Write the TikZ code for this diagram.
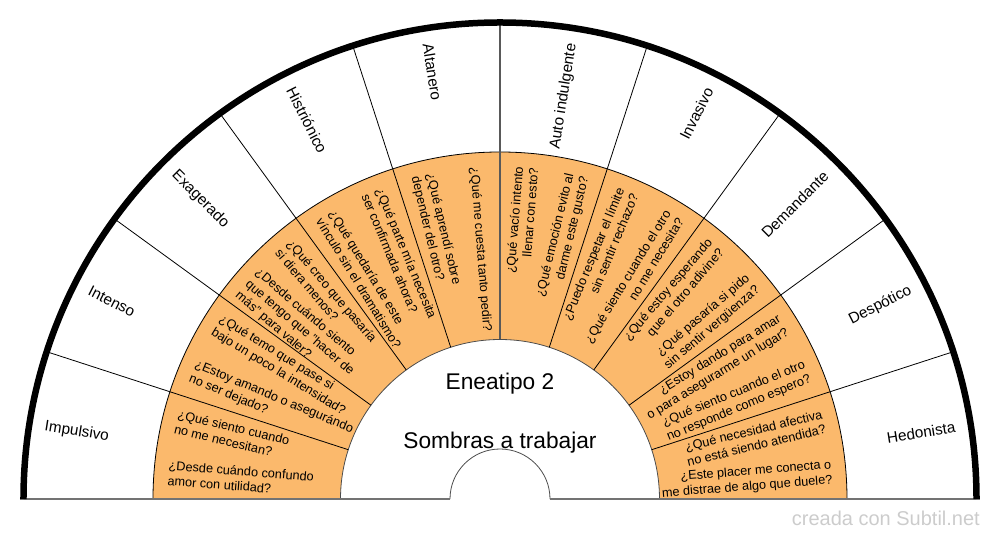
\documentclass[tikz,border=0pt]{standalone}
\usepackage{fontspec}
\setmainfont{Liberation Sans}

\definecolor{naranja}{RGB}{251,185,108}
\definecolor{marca}{RGB}{204,204,204}

\tikzset{
  rasgo/.style={font=\fontsize{15.3}{18}\selectfont, inner sep=0pt},
  pregunta/.style={font=\fontsize{12.7}{15.2}\selectfont, inner sep=0pt},
  titulo/.style={font=\fontsize{22.7}{27}\selectfont, inner sep=0pt, anchor=base}
}

\begin{document}
\begin{tikzpicture}[x=1pt,y=1pt]

        \useasboundingbox (-500,-41) rectangle (500,499);

        % anillo de preguntas
        \fill[naranja] (180:347) arc (180:0:347) -- (0:159.5) arc (0:180:159.5) -- cycle;
        \draw[line width=.8pt] (180:347) arc (180:0:347);
        \draw[line width=.8pt, black!70] (180:159.5) arc (180:0:159.5);
        \draw[line width=.8pt, black!70] (-50,0) arc (180:0:50);

        % separadores
        \begin{scope}[line width=.8pt]
          \draw (162:159.5) -- (162:476);
          \draw (144:159.5) -- (144:476);
          \draw (126:159.5) -- (126:476);
          \draw (108:159.5) -- (108:476);
          \draw[black!65, line width=1.5pt] (90:159.5) -- (90:476);
          \draw (72:159.5)  -- (72:476);
          \draw (54:159.5)  -- (54:476);
          \draw (36:159.5)  -- (36:476);
          \draw (18:159.5)  -- (18:476);
        \end{scope}

        % base y borde
        \draw[line width=1.5pt, black!55] (-480,0) -- (-50,0);
        \draw[line width=1.5pt, black!55] (50,0) -- (480,0);
        \draw[line width=6.5pt] (180:476.5) arc (180:0:476.5);

        % rasgos
        \begin{scope}[every node/.style={rasgo, anchor=west}]
          \node (t1)  at (171:461) [rotate=-9]  {Impulsivo};
          \node (t2)  at (153:461) [rotate=-27] {Intenso};
          \node (t3)  at (135:461) [rotate=-45] {Exagerado};
          \node (t4)  at (117:461) [rotate=-63] {Histriónico};
          \node (t5)  at (99:461)  [rotate=-81] {Altanero};
        \end{scope}
        \begin{scope}[every node/.style={rasgo, anchor=east}]
          \node (t6)  at (81:461)  [rotate=81]  {Auto indulgente};
          \node (t7)  at (63:461)  [rotate=63]  {Invasivo};
          \node (t8)  at (45:461)  [rotate=45]  {Demandante};
          \node (t9)  at (27:461)  [rotate=27]  {Despótico};
          \node (t10) at (9:461)   [rotate=9]   {Hedonista};
        \end{scope}

        % preguntas
        \begin{scope}[every node/.style={pregunta, anchor=west, align=left}]
          \node (q1)  at (175.5:333) [rotate=-4.5]  {¿Desde cuándo confundo\\amor con utilidad?};
          \node (q2)  at (166.5:333) [rotate=-13.5] {¿Qué siento cuando\\no me necesitan?};
          \node (q3)  at (157.5:333) [rotate=-22.5] {¿Estoy amando o asegurándo\\no ser dejado?};
          \node (q4)  at (148.5:333) [rotate=-31.5] {¿Qué temo que pase si\\bajo un poco la intensidad?};
          \node (q5)  at (139.5:333) [rotate=-40.5] {¿Desde cuándo siento\\que tengo que "hacer de\\más" para valer?};
          \node (q6)  at (130.5:333) [rotate=-49.5] {¿Qué creo que pasaría\\si diera menos?};
          \node (q7)  at (121.5:333) [rotate=-58.5] {¿Qué quedaría de este\\vínculo sin el dramatismo?};
          \node (q8)  at (112.5:333) [rotate=-67.5] {¿Qué parte mía necesita\\ser confirmada ahora?};
          \node (q9)  at (103.5:333) [rotate=-76.5] {¿Qué aprendí sobre\\depender del otro?};
          \node (q10) at (94.5:333)  [rotate=-85.5] {¿Qué me cuesta tanto pedir?};
        \end{scope}
        \begin{scope}[every node/.style={pregunta, anchor=east, align=right}]
          \node (q11) at (85.5:333) [rotate=85.5] {¿Qué vacío intento\\llenar con esto?};
          \node (q12) at (76.5:333) [rotate=76.5] {¿Qué emoción evito al\\darme este gusto?};
          \node (q13) at (67.5:333) [rotate=67.5] {¿Puedo respetar el límite\\sin sentir rechazo?};
          \node (q14) at (58.5:333) [rotate=58.5] {¿Qué siento cuando el otro\\no me necesita?};
          \node (q15) at (49.5:333) [rotate=49.5] {¿Qué estoy esperando\\que el otro adivine?};
          \node (q16) at (40.5:333) [rotate=40.5] {¿Qué pasaría si pido\\sin sentir vergüenza?};
          \node (q17) at (31.5:333) [rotate=31.5] {¿Estoy dando para amar\\o para asegurarme un lugar?};
          \node (q18) at (22.5:333) [rotate=22.5] {¿Qué siento cuando el otro\\no responde como espero?};
          \node (q19) at (13.5:333) [rotate=13.5] {¿Qué necesidad afectiva\\no está siendo atendida?};
          \node (q20) at (4.5:333)  [rotate=4.5]  {¿Este placer me conecta o\\me distrae de algo que duele?};
        \end{scope}

        % centro
        \node[titulo] (tipo)    at (0,109)  {Eneatipo 2};
        \node[titulo] (sombras) at (0,50.7) {Sombras a trabajar};

        \node[anchor=base east, text=marca, inner sep=0pt,
              font=\fontsize{20}{24}\selectfont] (marca) at (480,-27) {creada con Subtil.net};

      \end{tikzpicture}
\end{document}
